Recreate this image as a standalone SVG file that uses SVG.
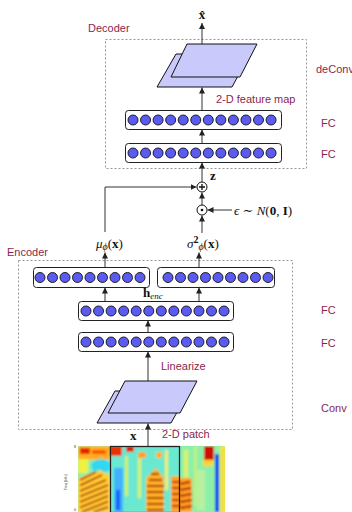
<svg xmlns="http://www.w3.org/2000/svg" xmlns:xlink="http://www.w3.org/1999/xlink" width="352" height="512" viewBox="0 0 352 512">
<style>
.lbl{font-family:"Liberation Sans",Arial,sans-serif;font-size:11px;fill:#8b1f4f}
.math{font-family:"Liberation Serif","DejaVu Serif",serif;font-size:13px;fill:#111}
.dash{fill:none;stroke:#999;stroke-width:1;stroke-dasharray:2,2}
.box{fill:#fff;stroke:#222;stroke-width:1}
.neu{fill:#5b5bf2;stroke:#111;stroke-width:0.9}
.plane{fill:#c9c9fb;stroke:#111;stroke-width:1}
.conn{stroke:#333;stroke-width:1;fill:none}
.arr{marker-end:url(#ah)}
.op{fill:#fff;stroke:#111;stroke-width:1}
.tick{font-family:"Liberation Sans",Arial,sans-serif;font-size:3.5px;fill:#333;text-anchor:middle}
</style>
<defs>
<marker id="ah" markerUnits="userSpaceOnUse" markerWidth="7" markerHeight="7" refX="6" refY="3.5" orient="auto">
<path d="M0,0.5 L6,3.5 L0,6.5 z" fill="#222"/>
</marker>
<g id="row12">
<circle class="neu" cx="0" cy="0" r="5"/><circle class="neu" cx="12.55" cy="0" r="5"/><circle class="neu" cx="25.1" cy="0" r="5"/><circle class="neu" cx="37.65" cy="0" r="5"/><circle class="neu" cx="50.2" cy="0" r="5"/><circle class="neu" cx="62.75" cy="0" r="5"/><circle class="neu" cx="75.3" cy="0" r="5"/><circle class="neu" cx="87.85" cy="0" r="5"/><circle class="neu" cx="100.4" cy="0" r="5"/><circle class="neu" cx="112.95" cy="0" r="5"/><circle class="neu" cx="125.5" cy="0" r="5"/><circle class="neu" cx="138.05" cy="0" r="5"/>
</g>
<g id="row9">
<circle class="neu" cx="0" cy="0" r="5"/><circle class="neu" cx="12.5" cy="0" r="5"/><circle class="neu" cx="25" cy="0" r="5"/><circle class="neu" cx="37.5" cy="0" r="5"/><circle class="neu" cx="50" cy="0" r="5"/><circle class="neu" cx="62.5" cy="0" r="5"/><circle class="neu" cx="75" cy="0" r="5"/><circle class="neu" cx="87.5" cy="0" r="5"/><circle class="neu" cx="100" cy="0" r="5"/>
</g>
<clipPath id="specclip"><rect x="78" y="446" width="147" height="66"/></clipPath>
<filter id="blur" x="-5%" y="-5%" width="110%" height="110%"><feGaussianBlur stdDeviation="1.1"/></filter>
</defs>

<!-- dashed group boxes -->
<rect class="dash" x="105.5" y="39.5" width="201" height="129"/>
<rect class="dash" x="18.5" y="260.5" width="274" height="169"/>

<!-- labels -->
<text class="lbl" x="88" y="32">Decoder</text>
<text class="lbl" x="316" y="73">deConv</text>
<text class="lbl" x="216" y="103">2-D feature map</text>
<text class="lbl" x="321" y="127">FC</text>
<text class="lbl" x="321" y="158">FC</text>
<text class="lbl" x="7" y="256">Encoder</text>
<text class="lbl" x="321" y="314">FC</text>
<text class="lbl" x="321" y="347">FC</text>
<text class="lbl" x="161" y="370">Linearize</text>
<text class="lbl" x="321" y="412">Conv</text>
<text class="lbl" x="162" y="438">2-D patch</text>

<!-- connectors -->
<g id="connectors">
<line class="conn arr" x1="202" y1="44" x2="202" y2="23"/>
<line class="conn arr" x1="202" y1="110" x2="202" y2="87.5"/>
<line class="conn arr" x1="202" y1="143" x2="202" y2="129.5"/>
<line class="conn arr" x1="202" y1="182" x2="202" y2="162.5"/>
<line class="conn arr" x1="202" y1="205" x2="202" y2="192.5"/>
<polyline class="conn arr" points="105,232 105,187 196.5,187"/>
<line class="conn arr" x1="232" y1="210" x2="207.5" y2="210"/>
<line class="conn arr" x1="202" y1="233" x2="202" y2="215.5"/>
<line class="conn arr" x1="105" y1="267" x2="105" y2="252.5"/>
<line class="conn arr" x1="199" y1="267" x2="199" y2="252.5"/>
<line class="conn arr" x1="105" y1="301" x2="105" y2="287.5"/>
<line class="conn arr" x1="199" y1="301" x2="199" y2="287.5"/>
<line class="conn arr" x1="148" y1="332" x2="148" y2="320.5"/>
<line class="conn arr" x1="148" y1="381" x2="148" y2="351.5"/>
<line class="conn arr" x1="148" y1="446" x2="148" y2="423.5"/>
</g>

<!-- decoder planes -->
<g id="deconv">
<polygon class="plane" points="176,54 250,54 232,87 157,87"/>
<polygon class="plane" points="187,44 257,44 240,77 171,77"/>
</g>

<!-- decoder FC -->
<g id="dec-fc1">
<rect class="box" x="125.5" y="110.5" width="156" height="19" rx="3"/>
<use xlink:href="#row12" href="#row12" x="133" y="120"/>
</g>
<g id="dec-fc2">
<rect class="box" x="125.5" y="143.5" width="156" height="19" rx="3"/>
<use xlink:href="#row12" href="#row12" x="133" y="153"/>
</g>

<!-- operators -->
<g id="plus">
<circle class="op" cx="202" cy="187" r="5"/>
<path d="M202,184 V190 M199,187 H205" stroke="#111" stroke-width="1.3"/>
</g>
<g id="odot">
<circle class="op" cx="202" cy="210" r="5"/>
<circle cx="202" cy="210" r="1.3" fill="#111"/>
</g>

<!-- math labels -->
<text class="math" x="202" y="19" text-anchor="middle" font-weight="bold" font-size="12">x&#x302;</text>
<text class="math" x="210" y="180" font-weight="bold" font-size="11">z</text>
<text class="math" x="234" y="215"><tspan font-style="italic">ϵ</tspan> ∼ <tspan font-style="italic">N</tspan>(<tspan font-weight="bold">0</tspan>, <tspan font-weight="bold">I</tspan>)</text>
<text class="math" x="96" y="248"><tspan font-style="italic">μ</tspan><tspan font-style="italic" font-size="10" dy="2">ϕ</tspan><tspan dy="-2">(</tspan><tspan font-weight="bold">x</tspan>)</text>
<text class="math" x="187" y="248"><tspan font-style="italic">σ</tspan><tspan font-size="10" font-weight="bold" dy="-5">2</tspan><tspan font-style="italic" font-size="10" dy="7">ϕ</tspan><tspan dy="-2">(</tspan><tspan font-weight="bold">x</tspan>)</text>
<text class="math" x="143" y="297" font-size="12"><tspan font-weight="bold">h</tspan><tspan font-style="italic" font-size="9" dy="2">enc</tspan></text>
<text class="math" x="130" y="440" font-weight="bold" font-size="12">x</text>

<!-- encoder top FCs -->
<g id="enc-mu">
<rect class="box" x="33.5" y="267.5" width="116" height="20" rx="3"/>
<use xlink:href="#row9" href="#row9" x="40" y="277.5"/>
</g>
<g id="enc-sigma">
<rect class="box" x="157.5" y="267.5" width="117" height="20" rx="3"/>
<use xlink:href="#row9" href="#row9" x="168" y="277.5"/>
</g>
<g id="enc-fc1">
<rect class="box" x="78.5" y="301.5" width="155" height="19" rx="3"/>
<use xlink:href="#row12" href="#row12" x="86" y="311"/>
</g>
<g id="enc-fc2">
<rect class="box" x="78.5" y="332.5" width="155" height="19" rx="3"/>
<use xlink:href="#row12" href="#row12" x="86" y="342"/>
</g>

<!-- encoder conv planes -->
<g id="conv">
<polygon class="plane" points="115,391 189,391 171,423 97,423"/>
<polygon class="plane" points="125,381 197,381 180,413 108,413"/>
</g>

<!-- spectrogram -->
<g id="spectrogram">
<g clip-path="url(#specclip)">
<g filter="url(#blur)">
<rect x="70" y="440" width="160" height="80" fill="#8cf0a8"/>
<!-- left region -->
<rect x="78" y="446" width="32" height="14" fill="#ffb020"/>
<rect x="80" y="448" width="10" height="6" fill="#e02000"/>
<rect x="92" y="450" width="14" height="4" fill="#ff5000"/>
<rect x="78" y="459" width="10" height="14" fill="#f0f040"/>
<ellipse cx="101" cy="466" rx="10" ry="7" fill="#30d8f0"/>
<polygon points="78,512 78,478 100,470 110,476 110,512" fill="#ffd030"/>
<path d="M80,480 L96,472 M80,485.5 L102,475 M80,491 L106,480 M80,496.5 L108,485 M80,502 L108,490.5 M80,507.5 L108,496 M82,512 L108,501.5 M94,512 L108,507" stroke="#a80000" stroke-width="1.8"/>
<!-- inside box -->
<rect x="110" y="446" width="70" height="66" fill="#6ae8d0"/>
<rect x="110" y="446" width="12" height="10" fill="#e83000"/>
<rect x="126" y="446" width="8" height="6" fill="#e02000"/>
<rect x="138" y="452" width="8" height="6" fill="#ffa020"/>
<rect x="125" y="456" width="3" height="40" fill="#d0f060"/>
<rect x="138" y="458" width="3" height="40" fill="#e0f050"/>
<rect x="165" y="450" width="3" height="40" fill="#f0f060"/>
<rect x="156" y="452" width="6" height="6" fill="#ffb020"/>
<rect x="114" y="468" width="9" height="44" fill="#40b0ff"/>
<rect x="116" y="490" width="4" height="20" fill="#1060ff"/>
<polygon points="146,512 146,478 156,468 164,478 164,512" fill="#ffb020"/>
<path d="M151,474 H159 M149,480 H162 M147,486 H164 M147,492 H164 M147,498 H164 M147,504 H164 M147,510 H164" stroke="#a80000" stroke-width="1.8"/>
<rect x="171" y="476" width="9" height="36" fill="#ffa020"/>
<path d="M172,482 H180 M172,488 H180 M172,494 H180 M172,500 H180 M172,506 H180" stroke="#c00000" stroke-width="1.8"/>
<!-- right region -->
<rect x="180" y="478" width="12" height="34" fill="#ffa020"/>
<path d="M180,484 L190,482 M180,490 L191,488 M180,496 L192,494 M180,502 L192,500 M180,508 L192,506" stroke="#b00000" stroke-width="1.8"/>
<rect x="184" y="450" width="4" height="28" fill="#e0f060"/>
<rect x="194" y="446" width="3" height="60" fill="#c0f080"/>
<rect x="197" y="470" width="8" height="40" fill="#b8f0a0"/>
<rect x="204" y="446" width="10" height="14" fill="#d01000"/>
<rect x="203" y="460" width="10" height="6" fill="#ffd030"/>
<rect x="215" y="454" width="4" height="58" fill="#1040f0"/>
<rect x="220" y="446" width="10" height="66" fill="#f0e040"/>
</g>
</g>
<rect x="110.5" y="446.5" width="69" height="66" fill="none" stroke="#222" stroke-width="1.3"/>
<text class="tick" x="67" y="482" transform="rotate(-90 67 482)">Freq (kHz)</text>
<text class="tick" x="75" y="448">8</text>
<text class="tick" x="75" y="511">0</text>
</g>
</svg>
